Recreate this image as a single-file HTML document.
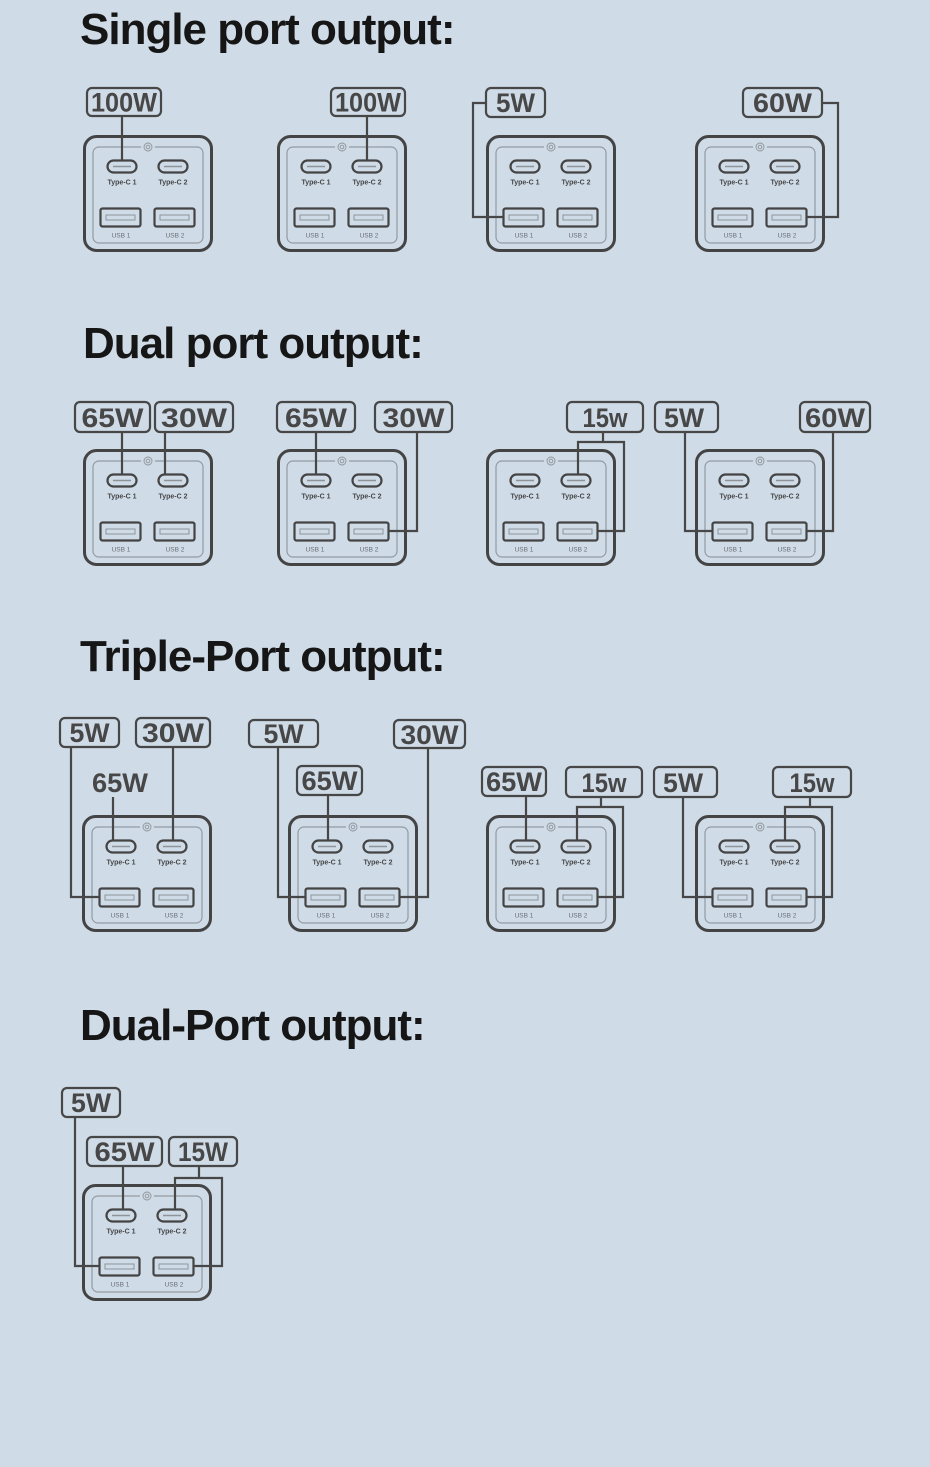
<!DOCTYPE html>
<html><head><meta charset="utf-8"><style>
html,body{margin:0;padding:0;background:#cfdbe7;}
svg{display:block;}
.t{font-family:"Liberation Sans",Arial,sans-serif;font-weight:bold;font-size:44px;fill:#161616;letter-spacing:-1px;}
.lb{font-family:"Liberation Sans",Arial,sans-serif;font-weight:bold;font-size:27px;fill:#474747;}
.bx{fill:none;stroke:#474747;stroke-width:2.2;}
.cn{fill:none;stroke:#474747;stroke-width:2.2;}
.o{fill:none;stroke:#444;stroke-width:3;}
.in{fill:none;stroke:#939aa2;stroke-width:1.2;}
.pl{fill:none;stroke:#444;stroke-width:2.2;}
.sl{stroke:#8e949a;stroke-width:1.6;}
.us{fill:none;stroke:#444;stroke-width:2.2;}
.ss{fill:none;stroke:#8e949a;stroke-width:1;}
.tc{font-family:"Liberation Sans",Arial,sans-serif;font-weight:bold;font-size:7px;fill:#474747;}
.ul{font-family:"Liberation Sans",Arial,sans-serif;font-size:6.5px;fill:#6a6e73;}
.ic{fill:none;stroke:#8e949a;stroke-width:0.9;}
</style></head><body>
<svg width="930" height="1467" viewBox="0 0 930 1467" xmlns="http://www.w3.org/2000/svg">
<rect width="930" height="1467" fill="#cfdbe7"/>

<text class="t" x="80" y="44">Single port output:</text>
<text class="t" x="83" y="358">Dual port output:</text>
<text class="t" x="80" y="671">Triple-Port output:</text>
<text class="t" x="80" y="1040">Dual-Port output:</text>

<!-- Devices -->
<g transform="translate(83,135)">
<rect class="o" x="1.5" y="1.5" width="127" height="114" rx="12"/>
<rect class="in" x="10" y="12" width="110" height="96" rx="6"/>
<circle cx="65" cy="12" r="7" fill="#cfdbe7"/><circle class="ic" cx="65" cy="12" r="4"/><circle class="ic" cx="65" cy="12" r="1.8"/>
<rect class="pl" x="24.5" y="25.5" width="29" height="12" rx="6"/><line class="sl" x1="30" y1="31.5" x2="48" y2="31.5"/>
<rect class="pl" x="75.5" y="25.5" width="29" height="12" rx="6"/><line class="sl" x1="81" y1="31.5" x2="99" y2="31.5"/>
<text class="tc" x="39" y="49.5" text-anchor="middle">Type-C 1</text><text class="tc" x="90" y="49.5" text-anchor="middle">Type-C 2</text>
<rect class="us" x="17.5" y="73.5" width="40" height="18" rx="2"/><rect class="ss" x="23" y="80" width="29" height="5"/>
<rect class="us" x="71.5" y="73.5" width="40" height="18" rx="2"/><rect class="ss" x="77" y="80" width="29" height="5"/>
<text class="ul" x="38" y="102.5" text-anchor="middle">USB 1</text><text class="ul" x="92" y="102.5" text-anchor="middle">USB 2</text>
</g>
<g transform="translate(277,135)">
<rect class="o" x="1.5" y="1.5" width="127" height="114" rx="12"/>
<rect class="in" x="10" y="12" width="110" height="96" rx="6"/>
<circle cx="65" cy="12" r="7" fill="#cfdbe7"/><circle class="ic" cx="65" cy="12" r="4"/><circle class="ic" cx="65" cy="12" r="1.8"/>
<rect class="pl" x="24.5" y="25.5" width="29" height="12" rx="6"/><line class="sl" x1="30" y1="31.5" x2="48" y2="31.5"/>
<rect class="pl" x="75.5" y="25.5" width="29" height="12" rx="6"/><line class="sl" x1="81" y1="31.5" x2="99" y2="31.5"/>
<text class="tc" x="39" y="49.5" text-anchor="middle">Type-C 1</text><text class="tc" x="90" y="49.5" text-anchor="middle">Type-C 2</text>
<rect class="us" x="17.5" y="73.5" width="40" height="18" rx="2"/><rect class="ss" x="23" y="80" width="29" height="5"/>
<rect class="us" x="71.5" y="73.5" width="40" height="18" rx="2"/><rect class="ss" x="77" y="80" width="29" height="5"/>
<text class="ul" x="38" y="102.5" text-anchor="middle">USB 1</text><text class="ul" x="92" y="102.5" text-anchor="middle">USB 2</text>
</g>
<g transform="translate(486,135)">
<rect class="o" x="1.5" y="1.5" width="127" height="114" rx="12"/>
<rect class="in" x="10" y="12" width="110" height="96" rx="6"/>
<circle cx="65" cy="12" r="7" fill="#cfdbe7"/><circle class="ic" cx="65" cy="12" r="4"/><circle class="ic" cx="65" cy="12" r="1.8"/>
<rect class="pl" x="24.5" y="25.5" width="29" height="12" rx="6"/><line class="sl" x1="30" y1="31.5" x2="48" y2="31.5"/>
<rect class="pl" x="75.5" y="25.5" width="29" height="12" rx="6"/><line class="sl" x1="81" y1="31.5" x2="99" y2="31.5"/>
<text class="tc" x="39" y="49.5" text-anchor="middle">Type-C 1</text><text class="tc" x="90" y="49.5" text-anchor="middle">Type-C 2</text>
<rect class="us" x="17.5" y="73.5" width="40" height="18" rx="2"/><rect class="ss" x="23" y="80" width="29" height="5"/>
<rect class="us" x="71.5" y="73.5" width="40" height="18" rx="2"/><rect class="ss" x="77" y="80" width="29" height="5"/>
<text class="ul" x="38" y="102.5" text-anchor="middle">USB 1</text><text class="ul" x="92" y="102.5" text-anchor="middle">USB 2</text>
</g>
<g transform="translate(695,135)">
<rect class="o" x="1.5" y="1.5" width="127" height="114" rx="12"/>
<rect class="in" x="10" y="12" width="110" height="96" rx="6"/>
<circle cx="65" cy="12" r="7" fill="#cfdbe7"/><circle class="ic" cx="65" cy="12" r="4"/><circle class="ic" cx="65" cy="12" r="1.8"/>
<rect class="pl" x="24.5" y="25.5" width="29" height="12" rx="6"/><line class="sl" x1="30" y1="31.5" x2="48" y2="31.5"/>
<rect class="pl" x="75.5" y="25.5" width="29" height="12" rx="6"/><line class="sl" x1="81" y1="31.5" x2="99" y2="31.5"/>
<text class="tc" x="39" y="49.5" text-anchor="middle">Type-C 1</text><text class="tc" x="90" y="49.5" text-anchor="middle">Type-C 2</text>
<rect class="us" x="17.5" y="73.5" width="40" height="18" rx="2"/><rect class="ss" x="23" y="80" width="29" height="5"/>
<rect class="us" x="71.5" y="73.5" width="40" height="18" rx="2"/><rect class="ss" x="77" y="80" width="29" height="5"/>
<text class="ul" x="38" y="102.5" text-anchor="middle">USB 1</text><text class="ul" x="92" y="102.5" text-anchor="middle">USB 2</text>
</g>

<g transform="translate(83,449)">
<rect class="o" x="1.5" y="1.5" width="127" height="114" rx="12"/>
<rect class="in" x="10" y="12" width="110" height="96" rx="6"/>
<circle cx="65" cy="12" r="7" fill="#cfdbe7"/><circle class="ic" cx="65" cy="12" r="4"/><circle class="ic" cx="65" cy="12" r="1.8"/>
<rect class="pl" x="24.5" y="25.5" width="29" height="12" rx="6"/><line class="sl" x1="30" y1="31.5" x2="48" y2="31.5"/>
<rect class="pl" x="75.5" y="25.5" width="29" height="12" rx="6"/><line class="sl" x1="81" y1="31.5" x2="99" y2="31.5"/>
<text class="tc" x="39" y="49.5" text-anchor="middle">Type-C 1</text><text class="tc" x="90" y="49.5" text-anchor="middle">Type-C 2</text>
<rect class="us" x="17.5" y="73.5" width="40" height="18" rx="2"/><rect class="ss" x="23" y="80" width="29" height="5"/>
<rect class="us" x="71.5" y="73.5" width="40" height="18" rx="2"/><rect class="ss" x="77" y="80" width="29" height="5"/>
<text class="ul" x="38" y="102.5" text-anchor="middle">USB 1</text><text class="ul" x="92" y="102.5" text-anchor="middle">USB 2</text>
</g>
<g transform="translate(277,449)">
<rect class="o" x="1.5" y="1.5" width="127" height="114" rx="12"/>
<rect class="in" x="10" y="12" width="110" height="96" rx="6"/>
<circle cx="65" cy="12" r="7" fill="#cfdbe7"/><circle class="ic" cx="65" cy="12" r="4"/><circle class="ic" cx="65" cy="12" r="1.8"/>
<rect class="pl" x="24.5" y="25.5" width="29" height="12" rx="6"/><line class="sl" x1="30" y1="31.5" x2="48" y2="31.5"/>
<rect class="pl" x="75.5" y="25.5" width="29" height="12" rx="6"/><line class="sl" x1="81" y1="31.5" x2="99" y2="31.5"/>
<text class="tc" x="39" y="49.5" text-anchor="middle">Type-C 1</text><text class="tc" x="90" y="49.5" text-anchor="middle">Type-C 2</text>
<rect class="us" x="17.5" y="73.5" width="40" height="18" rx="2"/><rect class="ss" x="23" y="80" width="29" height="5"/>
<rect class="us" x="71.5" y="73.5" width="40" height="18" rx="2"/><rect class="ss" x="77" y="80" width="29" height="5"/>
<text class="ul" x="38" y="102.5" text-anchor="middle">USB 1</text><text class="ul" x="92" y="102.5" text-anchor="middle">USB 2</text>
</g>
<g transform="translate(486,449)">
<rect class="o" x="1.5" y="1.5" width="127" height="114" rx="12"/>
<rect class="in" x="10" y="12" width="110" height="96" rx="6"/>
<circle cx="65" cy="12" r="7" fill="#cfdbe7"/><circle class="ic" cx="65" cy="12" r="4"/><circle class="ic" cx="65" cy="12" r="1.8"/>
<rect class="pl" x="24.5" y="25.5" width="29" height="12" rx="6"/><line class="sl" x1="30" y1="31.5" x2="48" y2="31.5"/>
<rect class="pl" x="75.5" y="25.5" width="29" height="12" rx="6"/><line class="sl" x1="81" y1="31.5" x2="99" y2="31.5"/>
<text class="tc" x="39" y="49.5" text-anchor="middle">Type-C 1</text><text class="tc" x="90" y="49.5" text-anchor="middle">Type-C 2</text>
<rect class="us" x="17.5" y="73.5" width="40" height="18" rx="2"/><rect class="ss" x="23" y="80" width="29" height="5"/>
<rect class="us" x="71.5" y="73.5" width="40" height="18" rx="2"/><rect class="ss" x="77" y="80" width="29" height="5"/>
<text class="ul" x="38" y="102.5" text-anchor="middle">USB 1</text><text class="ul" x="92" y="102.5" text-anchor="middle">USB 2</text>
</g>
<g transform="translate(695,449)">
<rect class="o" x="1.5" y="1.5" width="127" height="114" rx="12"/>
<rect class="in" x="10" y="12" width="110" height="96" rx="6"/>
<circle cx="65" cy="12" r="7" fill="#cfdbe7"/><circle class="ic" cx="65" cy="12" r="4"/><circle class="ic" cx="65" cy="12" r="1.8"/>
<rect class="pl" x="24.5" y="25.5" width="29" height="12" rx="6"/><line class="sl" x1="30" y1="31.5" x2="48" y2="31.5"/>
<rect class="pl" x="75.5" y="25.5" width="29" height="12" rx="6"/><line class="sl" x1="81" y1="31.5" x2="99" y2="31.5"/>
<text class="tc" x="39" y="49.5" text-anchor="middle">Type-C 1</text><text class="tc" x="90" y="49.5" text-anchor="middle">Type-C 2</text>
<rect class="us" x="17.5" y="73.5" width="40" height="18" rx="2"/><rect class="ss" x="23" y="80" width="29" height="5"/>
<rect class="us" x="71.5" y="73.5" width="40" height="18" rx="2"/><rect class="ss" x="77" y="80" width="29" height="5"/>
<text class="ul" x="38" y="102.5" text-anchor="middle">USB 1</text><text class="ul" x="92" y="102.5" text-anchor="middle">USB 2</text>
</g>

<g transform="translate(82,815)">
<rect class="o" x="1.5" y="1.5" width="127" height="114" rx="12"/>
<rect class="in" x="10" y="12" width="110" height="96" rx="6"/>
<circle cx="65" cy="12" r="7" fill="#cfdbe7"/><circle class="ic" cx="65" cy="12" r="4"/><circle class="ic" cx="65" cy="12" r="1.8"/>
<rect class="pl" x="24.5" y="25.5" width="29" height="12" rx="6"/><line class="sl" x1="30" y1="31.5" x2="48" y2="31.5"/>
<rect class="pl" x="75.5" y="25.5" width="29" height="12" rx="6"/><line class="sl" x1="81" y1="31.5" x2="99" y2="31.5"/>
<text class="tc" x="39" y="49.5" text-anchor="middle">Type-C 1</text><text class="tc" x="90" y="49.5" text-anchor="middle">Type-C 2</text>
<rect class="us" x="17.5" y="73.5" width="40" height="18" rx="2"/><rect class="ss" x="23" y="80" width="29" height="5"/>
<rect class="us" x="71.5" y="73.5" width="40" height="18" rx="2"/><rect class="ss" x="77" y="80" width="29" height="5"/>
<text class="ul" x="38" y="102.5" text-anchor="middle">USB 1</text><text class="ul" x="92" y="102.5" text-anchor="middle">USB 2</text>
</g>
<g transform="translate(288,815)">
<rect class="o" x="1.5" y="1.5" width="127" height="114" rx="12"/>
<rect class="in" x="10" y="12" width="110" height="96" rx="6"/>
<circle cx="65" cy="12" r="7" fill="#cfdbe7"/><circle class="ic" cx="65" cy="12" r="4"/><circle class="ic" cx="65" cy="12" r="1.8"/>
<rect class="pl" x="24.5" y="25.5" width="29" height="12" rx="6"/><line class="sl" x1="30" y1="31.5" x2="48" y2="31.5"/>
<rect class="pl" x="75.5" y="25.5" width="29" height="12" rx="6"/><line class="sl" x1="81" y1="31.5" x2="99" y2="31.5"/>
<text class="tc" x="39" y="49.5" text-anchor="middle">Type-C 1</text><text class="tc" x="90" y="49.5" text-anchor="middle">Type-C 2</text>
<rect class="us" x="17.5" y="73.5" width="40" height="18" rx="2"/><rect class="ss" x="23" y="80" width="29" height="5"/>
<rect class="us" x="71.5" y="73.5" width="40" height="18" rx="2"/><rect class="ss" x="77" y="80" width="29" height="5"/>
<text class="ul" x="38" y="102.5" text-anchor="middle">USB 1</text><text class="ul" x="92" y="102.5" text-anchor="middle">USB 2</text>
</g>
<g transform="translate(486,815)">
<rect class="o" x="1.5" y="1.5" width="127" height="114" rx="12"/>
<rect class="in" x="10" y="12" width="110" height="96" rx="6"/>
<circle cx="65" cy="12" r="7" fill="#cfdbe7"/><circle class="ic" cx="65" cy="12" r="4"/><circle class="ic" cx="65" cy="12" r="1.8"/>
<rect class="pl" x="24.5" y="25.5" width="29" height="12" rx="6"/><line class="sl" x1="30" y1="31.5" x2="48" y2="31.5"/>
<rect class="pl" x="75.5" y="25.5" width="29" height="12" rx="6"/><line class="sl" x1="81" y1="31.5" x2="99" y2="31.5"/>
<text class="tc" x="39" y="49.5" text-anchor="middle">Type-C 1</text><text class="tc" x="90" y="49.5" text-anchor="middle">Type-C 2</text>
<rect class="us" x="17.5" y="73.5" width="40" height="18" rx="2"/><rect class="ss" x="23" y="80" width="29" height="5"/>
<rect class="us" x="71.5" y="73.5" width="40" height="18" rx="2"/><rect class="ss" x="77" y="80" width="29" height="5"/>
<text class="ul" x="38" y="102.5" text-anchor="middle">USB 1</text><text class="ul" x="92" y="102.5" text-anchor="middle">USB 2</text>
</g>
<g transform="translate(695,815)">
<rect class="o" x="1.5" y="1.5" width="127" height="114" rx="12"/>
<rect class="in" x="10" y="12" width="110" height="96" rx="6"/>
<circle cx="65" cy="12" r="7" fill="#cfdbe7"/><circle class="ic" cx="65" cy="12" r="4"/><circle class="ic" cx="65" cy="12" r="1.8"/>
<rect class="pl" x="24.5" y="25.5" width="29" height="12" rx="6"/><line class="sl" x1="30" y1="31.5" x2="48" y2="31.5"/>
<rect class="pl" x="75.5" y="25.5" width="29" height="12" rx="6"/><line class="sl" x1="81" y1="31.5" x2="99" y2="31.5"/>
<text class="tc" x="39" y="49.5" text-anchor="middle">Type-C 1</text><text class="tc" x="90" y="49.5" text-anchor="middle">Type-C 2</text>
<rect class="us" x="17.5" y="73.5" width="40" height="18" rx="2"/><rect class="ss" x="23" y="80" width="29" height="5"/>
<rect class="us" x="71.5" y="73.5" width="40" height="18" rx="2"/><rect class="ss" x="77" y="80" width="29" height="5"/>
<text class="ul" x="38" y="102.5" text-anchor="middle">USB 1</text><text class="ul" x="92" y="102.5" text-anchor="middle">USB 2</text>
</g>

<g transform="translate(82,1184)">
<rect class="o" x="1.5" y="1.5" width="127" height="114" rx="12"/>
<rect class="in" x="10" y="12" width="110" height="96" rx="6"/>
<circle cx="65" cy="12" r="7" fill="#cfdbe7"/><circle class="ic" cx="65" cy="12" r="4"/><circle class="ic" cx="65" cy="12" r="1.8"/>
<rect class="pl" x="24.5" y="25.5" width="29" height="12" rx="6"/><line class="sl" x1="30" y1="31.5" x2="48" y2="31.5"/>
<rect class="pl" x="75.5" y="25.5" width="29" height="12" rx="6"/><line class="sl" x1="81" y1="31.5" x2="99" y2="31.5"/>
<text class="tc" x="39" y="49.5" text-anchor="middle">Type-C 1</text><text class="tc" x="90" y="49.5" text-anchor="middle">Type-C 2</text>
<rect class="us" x="17.5" y="73.5" width="40" height="18" rx="2"/><rect class="ss" x="23" y="80" width="29" height="5"/>
<rect class="us" x="71.5" y="73.5" width="40" height="18" rx="2"/><rect class="ss" x="77" y="80" width="29" height="5"/>
<text class="ul" x="38" y="102.5" text-anchor="middle">USB 1</text><text class="ul" x="92" y="102.5" text-anchor="middle">USB 2</text>
</g>

<!-- Connectors -->
<!-- Row 1 -->
<line class="cn" x1="122" y1="116" x2="122" y2="160"/>
<line class="cn" x1="367" y1="116" x2="367" y2="160"/>
<polyline class="cn" points="486,103 473,103 473,217 503,217"/>
<polyline class="cn" points="822,103 838,103 838,217 807,217"/>
<!-- Row 2 -->
<line class="cn" x1="122" y1="432" x2="122" y2="474"/>
<line class="cn" x1="165" y1="432" x2="165" y2="474"/>
<line class="cn" x1="316" y1="432" x2="316" y2="474"/>
<polyline class="cn" points="417,432 417,531 389,531"/>
<line class="cn" x1="603" y1="432" x2="603" y2="442"/>
<polyline class="cn" points="578,474 578,442 624,442 624,531 598,531"/>
<polyline class="cn" points="685,432 685,531 712,531"/>
<polyline class="cn" points="833,432 833,531 807,531"/>
<!-- Row 3 -->
<polyline class="cn" points="71,747 71,897 99,897"/>
<line class="cn" x1="173" y1="747" x2="173" y2="840"/>
<line class="cn" x1="113" y1="797" x2="113" y2="840"/>
<polyline class="cn" points="278,747 278,897 305,897"/>
<line class="cn" x1="328" y1="795" x2="328" y2="840"/>
<polyline class="cn" points="428,748 428,897 400,897"/>
<line class="cn" x1="526" y1="796" x2="526" y2="840"/>
<line class="cn" x1="601" y1="797" x2="601" y2="807"/>
<polyline class="cn" points="577,840 577,807 623,807 623,897 598,897"/>
<polyline class="cn" points="683,797 683,897 712,897"/>
<line class="cn" x1="810" y1="797" x2="810" y2="807"/>
<polyline class="cn" points="785,840 785,807 832,807 832,897 807,897"/>
<!-- Row 4 -->
<polyline class="cn" points="75,1117 75,1266 99,1266"/>
<line class="cn" x1="123" y1="1166" x2="123" y2="1209"/>
<line class="cn" x1="199" y1="1166" x2="199" y2="1178"/>
<polyline class="cn" points="175,1209 175,1178 222,1178 222,1266 194,1266"/>

<!-- Label boxes -->
<rect class="bx" x="87" y="88" width="74" height="28" rx="5"/><text class="lb" x="124" y="111.5" text-anchor="middle" textLength="66" lengthAdjust="spacingAndGlyphs">100W</text>
<rect class="bx" x="331" y="88" width="74" height="28" rx="5"/><text class="lb" x="368" y="111.5" text-anchor="middle" textLength="66" lengthAdjust="spacingAndGlyphs">100W</text>
<rect class="bx" x="486" y="88" width="59" height="29" rx="5"/><text class="lb" x="515.5" y="112" text-anchor="middle" textLength="39" lengthAdjust="spacingAndGlyphs">5W</text>
<rect class="bx" x="743" y="88" width="79" height="29" rx="5"/><text class="lb" x="782.5" y="112" text-anchor="middle" textLength="59" lengthAdjust="spacingAndGlyphs">60W</text>

<rect class="bx" x="75" y="402" width="75" height="30" rx="5"/><text class="lb" x="112.5" y="427" text-anchor="middle" textLength="62" lengthAdjust="spacingAndGlyphs">65W</text>
<rect class="bx" x="155" y="402" width="78" height="30" rx="5"/><text class="lb" x="194" y="427" text-anchor="middle" textLength="66" lengthAdjust="spacingAndGlyphs">30W</text>
<rect class="bx" x="277" y="402" width="78" height="30" rx="5"/><text class="lb" x="316" y="427" text-anchor="middle" textLength="62" lengthAdjust="spacingAndGlyphs">65W</text>
<rect class="bx" x="375" y="402" width="77" height="30" rx="5"/><text class="lb" x="413.5" y="427" text-anchor="middle" textLength="62" lengthAdjust="spacingAndGlyphs">30W</text>
<rect class="bx" x="567" y="402" width="76" height="30" rx="5"/><text class="lb" x="605" y="427" text-anchor="middle" textLength="45" lengthAdjust="spacingAndGlyphs">15w</text>
<rect class="bx" x="655" y="402" width="63" height="30" rx="5"/><text class="lb" x="684" y="427" text-anchor="middle" textLength="40" lengthAdjust="spacingAndGlyphs">5W</text>
<rect class="bx" x="800" y="402" width="70" height="30" rx="5"/><text class="lb" x="835" y="427" text-anchor="middle" textLength="60" lengthAdjust="spacingAndGlyphs">60W</text>

<rect class="bx" x="60" y="718" width="59" height="29" rx="5"/><text class="lb" x="89.5" y="742" text-anchor="middle" textLength="40" lengthAdjust="spacingAndGlyphs">5W</text>
<rect class="bx" x="136" y="718" width="74" height="29" rx="5"/><text class="lb" x="173" y="742" text-anchor="middle" textLength="62" lengthAdjust="spacingAndGlyphs">30W</text>
<text class="lb" x="120" y="792" text-anchor="middle" textLength="56" lengthAdjust="spacingAndGlyphs">65W</text>
<rect class="bx" x="249" y="720" width="69" height="27" rx="5"/><text class="lb" x="283.5" y="743" text-anchor="middle" textLength="40" lengthAdjust="spacingAndGlyphs">5W</text>
<rect class="bx" x="297" y="766" width="65" height="29" rx="5"/><text class="lb" x="329.5" y="790" text-anchor="middle" textLength="56" lengthAdjust="spacingAndGlyphs">65W</text>
<rect class="bx" x="394" y="720" width="71" height="28" rx="5"/><text class="lb" x="429.5" y="744" text-anchor="middle" textLength="58" lengthAdjust="spacingAndGlyphs">30W</text>
<rect class="bx" x="482" y="767" width="64" height="29" rx="5"/><text class="lb" x="514" y="791" text-anchor="middle" textLength="56" lengthAdjust="spacingAndGlyphs">65W</text>
<rect class="bx" x="566" y="767" width="76" height="30" rx="5"/><text class="lb" x="604" y="792" text-anchor="middle" textLength="45" lengthAdjust="spacingAndGlyphs">15w</text>
<rect class="bx" x="654" y="767" width="63" height="30" rx="5"/><text class="lb" x="683" y="792" text-anchor="middle" textLength="40" lengthAdjust="spacingAndGlyphs">5W</text>
<rect class="bx" x="773" y="767" width="78" height="30" rx="5"/><text class="lb" x="812" y="792" text-anchor="middle" textLength="45" lengthAdjust="spacingAndGlyphs">15w</text>

<rect class="bx" x="62" y="1088" width="58" height="29" rx="5"/><text class="lb" x="91" y="1112" text-anchor="middle" textLength="40" lengthAdjust="spacingAndGlyphs">5W</text>
<rect class="bx" x="87" y="1137" width="75" height="29" rx="5"/><text class="lb" x="124.5" y="1161" text-anchor="middle" textLength="60" lengthAdjust="spacingAndGlyphs">65W</text>
<rect class="bx" x="169" y="1137" width="68" height="29" rx="5"/><text class="lb" x="203" y="1161" text-anchor="middle" textLength="50" lengthAdjust="spacingAndGlyphs">15W</text>
</svg>
</body></html>
